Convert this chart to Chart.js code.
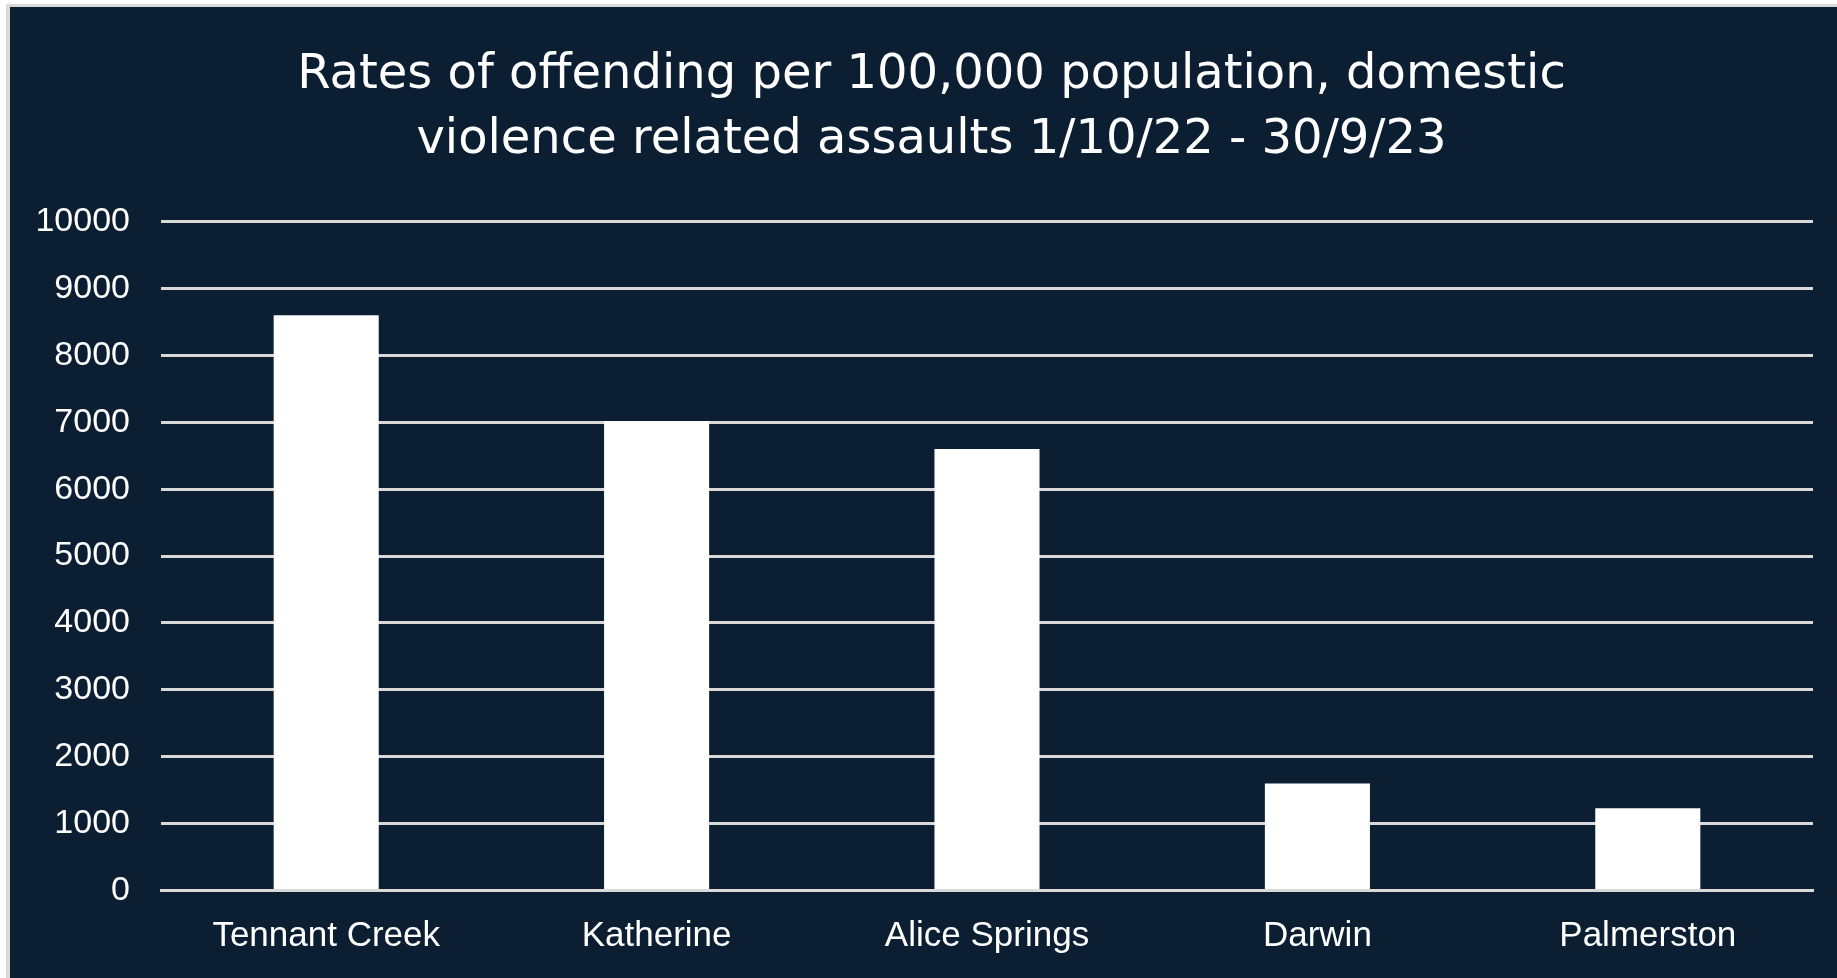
<!DOCTYPE html>
<html>
<head>
<meta charset="utf-8">
<script src="https://cdn.jsdelivr.net/npm/chart.js@4/dist/chart.umd.min.js"></script>
<style>
  html, body { margin: 0; padding: 0; background: #ffffff; }
  #wrap { position: relative; width: 1837px; height: 978px; }
  canvas { display: block; }
</style>
</head>
<body>
<div id="wrap"><canvas id="c" width="1837" height="978"></canvas></div>
<script>
const categories = ["Tennant Creek", "Katherine", "Alice Springs", "Darwin", "Palmerston"];
const rates = [8600, 7020, 6600, 1600, 1230];
const yTicks = [0, 1000, 2000, 3000, 4000, 5000, 6000, 7000, 8000, 9000, 10000];
const titleLines = ["Rates of offending per 100,000 population, domestic", "violence related assaults 1/10/22 - 30/9/23"];

const NAVY = "#0b1e32";
const GRID = "#d9d9d9";
const FONT = "'Liberation Sans', Arial, sans-serif";
const TITLE_FONT = "'DejaVu Sans', 'Liberation Sans', sans-serif";

const bgPlugin = {
  id: "bg",
  beforeDraw(chart) {
    const ctx = chart.ctx;
    ctx.save();
    ctx.fillStyle = "#ffffff";
    ctx.fillRect(0, 0, chart.width, chart.height);
    ctx.fillStyle = GRID;
    ctx.fillRect(6, 4, chart.width - 6, chart.height - 4);
    ctx.fillStyle = NAVY;
    ctx.fillRect(10, 7, chart.width - 10, chart.height - 7);
    ctx.restore();
  }
};

const titleShift = {
  id: "titleShift",
  afterLayout(chart) {
    const t = chart.titleBlock;
    if (t) {
      t.left = 50;
      t.right = chart.width - 24;
      t.width = t.right - t.left;
    }
  }
};

new Chart(document.getElementById("c"), {
  type: "bar",
  data: {
    labels: categories,
    datasets: [{
      data: rates,
      backgroundColor: "#ffffff",
      borderWidth: 0,
      categoryPercentage: 1,
      barPercentage: 0.318
    }]
  },
  options: {
    responsive: false,
    animation: false,
    devicePixelRatio: 1,
    layout: { padding: { left: 10, right: 24, top: 7, bottom: 0 } },
    plugins: {
      legend: { display: false },
      tooltip: { enabled: false },
      title: {
        display: true,
        text: titleLines,
        color: "#ffffff",
        font: { family: TITLE_FONT, size: 48, weight: "normal", lineHeight: 1.36 },
        padding: { top: 36, bottom: 48 }
      }
    },
    scales: {
      x: {
        z: 1,
        grid: { display: false, drawTicks: false },
        border: { display: true, color: GRID, width: 3 },
        ticks: { color: "#ffffff", font: { family: FONT, size: 35 }, padding: 25 },
        afterFit(scale) { scale.height = 87.5; }
      },
      y: {
        min: 0,
        max: 10000,
        afterBuildTicks(scale) { scale.ticks = yTicks.map(v => ({ value: v })); },
        grid: { color: GRID, lineWidth: 3, drawTicks: false },
        border: { display: false },
        ticks: {
          color: "#ffffff",
          font: { family: FONT, size: 34 },
          padding: 31,
          callback: (v) => String(v)
        },
        afterFit(scale) { scale.width = 151; }
      }
    }
  },
  plugins: [bgPlugin, titleShift]
});
</script>
</body>
</html>
